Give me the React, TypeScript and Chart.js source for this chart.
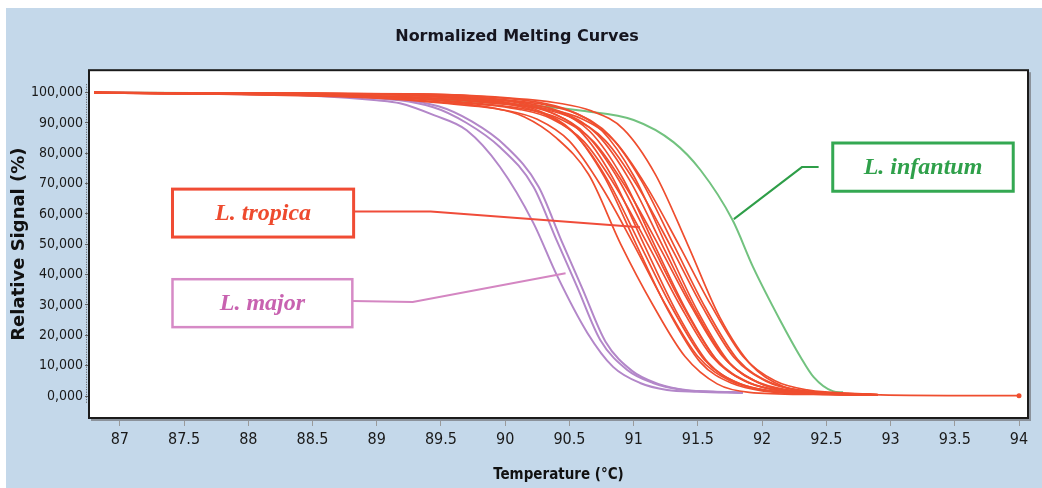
import React, { useEffect, useRef } from "react";
import { Chart, registerables } from "chart.js";

Chart.register(...registerables);

// ---------- axis ticks ----------
const TEMPERATURE_TICKS = [87, 87.5, 88, 88.5, 89, 89.5, 90, 90.5, 91, 91.5, 92, 92.5, 93, 93.5, 94];
const TEMPERATURE_LABELS = ["87", "87.5", "88", "88.5", "89", "89.5", "90", "90.5", "91", "91.5", "92", "92.5", "93", "93.5", "94"];
const SIGNAL_TICKS = [0, 10, 20, 30, 40, 50, 60, 70, 80, 90, 100];
const SIGNAL_LABELS = ["0,000", "10,000", "20,000", "30,000", "40,000", "50,000", "60,000", "70,000", "80,000", "90,000", "100,000"];

// ---------- L. tropica curves (temperature °C, relative signal %) ----------
const TROPICA_TEMPS = [
  [86.8, 88.90, 89.40, 89.90, 90.15, 90.40, 90.65, 90.90, 91.15, 91.40, 91.65, 91.90, 92.40, 92.90],
  [86.8, 89.00, 89.50, 90.00, 90.25, 90.50, 90.75, 91.00, 91.25, 91.50, 91.75, 92.00, 92.50, 92.90],
  [86.8, 89.05, 89.55, 90.05, 90.30, 90.55, 90.80, 91.05, 91.30, 91.55, 91.80, 92.05, 92.55, 92.90],
  [86.8, 89.08, 89.58, 90.08, 90.33, 90.58, 90.83, 91.08, 91.33, 91.58, 91.83, 92.08, 92.58, 92.90],
  [86.8, 89.11, 89.61, 90.11, 90.36, 90.61, 90.86, 91.11, 91.36, 91.61, 91.86, 92.11, 92.61, 92.90],
  [86.8, 89.14, 89.64, 90.14, 90.39, 90.64, 90.89, 91.14, 91.39, 91.64, 91.89, 92.14, 92.64, 92.90],
  [86.8, 89.16, 89.66, 90.16, 90.41, 90.66, 90.91, 91.16, 91.41, 91.66, 91.91, 92.16, 92.66, 92.90],
  [86.8, 89.19, 89.69, 90.19, 90.44, 90.69, 90.94, 91.19, 91.44, 91.69, 91.94, 92.19, 92.69, 92.90],
  [86.8, 89.22, 89.72, 90.22, 90.47, 90.72, 90.97, 91.22, 91.47, 91.72, 91.97, 92.22, 92.72, 92.90],
  [86.8, 89.25, 89.75, 90.25, 90.50, 90.75, 91.00, 91.25, 91.50, 91.75, 92.00, 92.25, 92.75, 92.90],
  [86.8, 89.28, 89.78, 90.28, 90.53, 90.78, 91.03, 91.28, 91.53, 91.78, 92.03, 92.28, 92.78, 92.90],
  [86.8, 89.31, 89.81, 90.31, 90.56, 90.81, 91.06, 91.31, 91.56, 91.81, 92.06, 92.31, 92.81, 92.90],
  [86.8, 89.42, 89.92, 90.42, 90.67, 90.92, 91.17, 91.42, 91.67, 91.92, 92.17, 92.42, 92.92, 94.00],
  [86.8, 89.02, 89.52, 90.02, 90.27, 90.52, 90.77, 91.02, 91.27, 91.52, 91.77, 92.02, 92.52, 92.90],
  [86.8, 89.35, 89.85, 90.35, 90.60, 90.85, 91.10, 91.35, 91.60, 91.85, 92.10, 92.35, 92.85],
];
const TROPICA_VALUES = [
  [100, 98.6, 97.2, 95.0, 92.0, 85.0, 73.0, 50.0, 30.0, 13.0, 4.0, 1.2, 0.5, 0.3],
  [100, 98.2, 96.6, 94.2, 91.2, 84.0, 69.0, 50.0, 30.0, 13.0, 5.0, 2.0, 0.7, 0.3],
  [100, 99.3, 98.3, 96.0, 93.0, 86.0, 71.0, 50.0, 29.0, 12.0, 4.5, 1.8, 0.6, 0.3],
  [100, 99.6, 98.8, 96.8, 94.0, 87.5, 72.5, 50.0, 28.0, 11.0, 4.0, 1.5, 0.5, 0.3],
  [100, 98.4, 96.9, 94.5, 91.4, 84.0, 69.0, 50.0, 30.0, 13.0, 5.0, 2.0, 0.7, 0.4],
  [100, 99.3, 98.2, 95.8, 92.8, 85.8, 70.8, 50.0, 29.2, 12.2, 4.6, 1.8, 0.6, 0.3],
  [100, 99.5, 98.7, 96.6, 93.8, 87.2, 72.2, 50.0, 28.2, 11.2, 4.1, 1.6, 0.5, 0.3],
  [100, 98.3, 96.8, 94.3, 91.1, 83.8, 68.8, 50.0, 30.2, 13.2, 5.1, 2.1, 0.7, 0.4],
  [100, 99.4, 98.4, 96.1, 93.1, 86.1, 71.1, 50.0, 28.9, 11.9, 4.4, 1.7, 0.6, 0.4],
  [100, 99.6, 98.9, 96.9, 94.1, 87.6, 72.6, 50.0, 27.8, 10.8, 3.9, 1.5, 0.5, 0.4],
  [100, 98.5, 97.0, 94.7, 91.5, 84.2, 69.2, 50.0, 29.8, 12.8, 4.9, 1.9, 0.6, 0.5],
  [100, 99.3, 98.3, 96.0, 93.0, 86.0, 71.0, 50.0, 29.0, 12.0, 4.5, 1.8, 0.6, 0.5],
  [100, 99.5, 98.6, 96.5, 94.0, 88.0, 73.0, 50.0, 26.0, 10.0, 3.0, 1.3, 0.4, 0.1],
  [100, 99.5, 98.7, 96.7, 93.9, 87.4, 72.4, 50.0, 28.1, 11.1, 4.1, 1.6, 0.5, 0.3],
  [100, 98.4, 96.8, 94.4, 91.3, 84.1, 69.1, 50.0, 30.1, 13.1, 5.0, 2.0, 0.6],
];

// ---------- L. major curves ----------
const MAJOR_TEMPS = [
  [86.8, 88.0, 88.5, 89.0, 89.18, 89.45, 89.7, 89.96, 90.22, 90.40, 90.64, 90.84, 91.05, 91.26, 91.5, 91.85],
  [86.8, 88.2, 88.8, 89.44, 89.7, 89.96, 90.22, 90.40, 90.56, 90.74, 90.95, 91.15, 91.38, 91.6, 91.85],
  [86.8, 88.2, 88.8, 89.48, 89.74, 90.0, 90.26, 90.44, 90.6, 90.78, 90.99, 91.19, 91.42, 91.62, 91.85],
];
const MAJOR_VALUES = [
  [100, 99.5, 99.0, 97.5, 96.5, 92.5, 87.6, 75.5, 57.0, 40.0, 20.8, 9.6, 4.3, 2.0, 1.4, 1.0],
  [100, 99.5, 98.8, 95.2, 90.0, 82.0, 69.0, 51.4, 36.0, 18.5, 8.6, 4.3, 2.0, 1.5, 1.2],
  [100, 99.6, 99.0, 95.5, 90.5, 82.5, 69.0, 51.0, 35.5, 18.0, 8.2, 4.0, 1.9, 1.4, 1.1],
];

// ---------- L. infantum curve ----------
const INFANTUM_TEMPS = [86.8, 88.0, 89.0, 89.6, 90.27, 90.6, 91.0, 91.31, 91.52, 91.77, 91.93, 92.14, 92.3, 92.4, 92.55, 92.63];
const INFANTUM_VALUES = [100, 99.8, 98.8, 97.5, 95.5, 94.0, 91.0, 83.7, 74.5, 58.0, 42.5, 25.0, 12.8, 6.3, 1.6, 1.2];

// ---------- styling ----------
const RED = "#ef4e2f";
const PURPLE = "#b387c9";
const GREEN = "#72c27f";
const PANEL = "#c4d8ea";
const NARROW = '"Liberation Sans Narrow", "DejaVu Sans Condensed", "Arial Narrow", sans-serif';

// Callout boxes (positions in data units)
const CALLOUTS = [
  {
    text: "L. tropica", textColor: "#ee4a2e", border: "#f04c34", lineColor: "#f04c3a", borderWidth: 3,
    box: { x0: 87.41, x1: 88.82, y0: 68.2, y1: 52.4 },
    line: [[88.82, 60.8], [89.42, 60.8], [91.05, 55.6]],
  },
  {
    text: "L. major", textColor: "#c862b0", border: "#d68ac6", lineColor: "#d486c2", borderWidth: 2.5,
    box: { x0: 87.41, x1: 88.81, y0: 38.5, y1: 22.7 },
    line: [[88.81, 31.3], [89.28, 31.0], [90.47, 40.5]],
  },
  {
    text: "L. infantum", textColor: "#2fa04a", border: "#34a852", lineColor: "#2e9e48", borderWidth: 3,
    box: { x0: 92.55, x1: 93.955, y0: 83.4, y1: 67.5 },
    line: [[92.44, 75.45], [92.31, 75.45], [91.78, 58.3]],
  },
];

function toPoints(ts: number[], vs: number[]) {
  return ts.map((t, i) => ({ x: t, y: vs[i] }));
}

const backgroundPlugin = {
  id: "bgPanel",
  beforeDraw(chart: any) {
    const { ctx, width, height, chartArea } = chart;
    ctx.save();
    ctx.fillStyle = "#ffffff";
    ctx.fillRect(0, 0, width, height);
    ctx.fillStyle = PANEL;
    ctx.fillRect(6, 8, width - 6, height - 8);
    ctx.fillStyle = "#ffffff";
    ctx.fillRect(chartArea.left, chartArea.top, chartArea.right - chartArea.left, chartArea.bottom - chartArea.top);
    ctx.restore();
  },
};

const framePlugin = {
  id: "frame",
  afterDraw(chart: any) {
    const { ctx, chartArea } = chart;
    const { left, right, top, bottom } = chartArea;
    ctx.save();
    ctx.fillStyle = "#8b929b";
    ctx.fillRect(right, top + 2, 3, bottom - top + 1);
    ctx.fillRect(left + 2, bottom, right - left + 1, 3);
    ctx.strokeStyle = "#1b1b1b";
    ctx.lineWidth = 2;
    ctx.strokeRect(left, top, right - left, bottom - top);
    ctx.strokeStyle = "#555";
    ctx.lineWidth = 1;
    ctx.setLineDash([1, 1.5]);
    ctx.beginPath();
    ctx.moveTo(left - 2.5, top + 14);
    ctx.lineTo(left - 2.5, bottom - 14);
    ctx.stroke();
    ctx.restore();
  },
};

const calloutPlugin = {
  id: "callouts",
  afterDatasetsDraw(chart: any) {
    const { ctx, scales } = chart;
    const xs = scales.x;
    const ys = scales.y;
    ctx.save();
    for (const c of CALLOUTS) {
      ctx.strokeStyle = c.lineColor;
      ctx.lineWidth = 2;
      ctx.beginPath();
      c.line.forEach(([x, y], i) => {
        const px = xs.getPixelForValue(x);
        const py = ys.getPixelForValue(y);
        if (i === 0) ctx.moveTo(px, py);
        else ctx.lineTo(px, py);
      });
      ctx.stroke();
      const x0 = xs.getPixelForValue(c.box.x0);
      const x1 = xs.getPixelForValue(c.box.x1);
      const y0 = ys.getPixelForValue(c.box.y0);
      const y1 = ys.getPixelForValue(c.box.y1);
      ctx.fillStyle = "#ffffff";
      ctx.fillRect(x0, y0, x1 - x0, y1 - y0);
      ctx.strokeStyle = c.border;
      ctx.lineWidth = c.borderWidth;
      ctx.strokeRect(x0, y0, x1 - x0, y1 - y0);
      ctx.fillStyle = c.textColor;
      ctx.font = 'italic bold 24px "Liberation Serif", "DejaVu Serif", serif';
      ctx.textAlign = "center";
      ctx.textBaseline = "middle";
      ctx.fillText(c.text, (x0 + x1) / 2, (y0 + y1) / 2 + 1);
    }
    ctx.restore();
  },
};

export default function App() {
  const canvasRef = useRef<HTMLCanvasElement>(null);

  useEffect(() => {
    if (!canvasRef.current) return;
    const datasets: any[] = [];
    TROPICA_TEMPS.forEach((ts, i) => {
      const last = ts.length - 1;
      datasets.push({
        label: "L. tropica " + (i + 1),
        data: toPoints(ts, TROPICA_VALUES[i]),
        borderColor: RED,
        backgroundColor: RED,
        borderWidth: 1.7,
        showLine: true,
        cubicInterpolationMode: "monotone",
        pointRadius: (ctx: any) => (ts[last] === 94 && ctx.dataIndex === last ? 2.5 : 0),
        pointBorderWidth: 0,
      });
    });
    MAJOR_TEMPS.forEach((ts, i) => {
      datasets.push({
        label: "L. major " + (i + 1),
        data: toPoints(ts, MAJOR_VALUES[i]),
        borderColor: PURPLE,
        borderWidth: 2,
        showLine: true,
        cubicInterpolationMode: "monotone",
        pointRadius: 0,
      });
    });
    datasets.push({
      label: "L. infantum",
      data: toPoints(INFANTUM_TEMPS, INFANTUM_VALUES),
      borderColor: GREEN,
      borderWidth: 2,
      showLine: true,
      cubicInterpolationMode: "monotone",
      pointRadius: 0,
    });

    const chart = new Chart(canvasRef.current, {
      type: "scatter",
      data: { datasets },
      options: {
        animation: false,
        responsive: true,
        maintainAspectRatio: false,
        layout: { padding: { left: 6, top: 8, right: 14, bottom: 0 } },
        plugins: {
          legend: { display: false },
          tooltip: { enabled: false },
          title: {
            display: true,
            text: "Normalized Melting Curves",
            color: "#15151f",
            font: { family: '"DejaVu Sans", sans-serif', size: 16, weight: "bold" },
            padding: { top: 19, bottom: 24 },
          },
        },
        scales: {
          x: {
            type: "linear",
            min: 86.76,
            max: 94.07,
            afterBuildTicks: (s: any) => {
              s.ticks = TEMPERATURE_TICKS.map((v) => ({ value: v }));
            },
            afterFit: (s: any) => {
              s.height = 70;
            },
            ticks: {
              autoSkip: false,
              maxRotation: 0,
              padding: 4,
              color: "#1a1a1a",
              font: { family: NARROW, size: 16 },
              callback: (_v: any, i: number) => TEMPERATURE_LABELS[i],
            },
            grid: { drawOnChartArea: false, drawTicks: true, tickLength: 8, color: "#9a9a9a" },
            border: { display: false },
            title: {
              display: true,
              text: "Temperature (°C)",
              color: "#111",
              font: { family: NARROW, size: 15, weight: "bold" },
              padding: { top: 4, bottom: 4 },
            },
          },
          y: {
            type: "linear",
            min: -7.25,
            max: 107.4,
            afterBuildTicks: (s: any) => {
              s.ticks = SIGNAL_TICKS.map((v) => ({ value: v }));
            },
            afterFit: (s: any) => {
              s.width = 83;
            },
            ticks: {
              autoSkip: false,
              padding: 2,
              color: "#1a1a1a",
              font: { family: NARROW, size: 14 },
              callback: (_v: any, i: number) => SIGNAL_LABELS[i],
            },
            grid: { drawOnChartArea: false, drawTicks: true, tickLength: 4, color: "#666" },
            border: { display: false },
            title: {
              display: true,
              text: "Relative Signal (%)",
              color: "#111",
              font: { family: '"DejaVu Sans", sans-serif', size: 18, weight: "bold" },
              padding: { top: 3, bottom: 3 },
            },
          },
        },
      } as any,
      plugins: [backgroundPlugin, framePlugin, calloutPlugin],
    });
    return () => chart.destroy();
  }, []);

  return (
    <div style={{ position: "fixed", left: 0, top: 0, width: 1042, height: 488 }}>
      <canvas ref={canvasRef} />
    </div>
  );
}
